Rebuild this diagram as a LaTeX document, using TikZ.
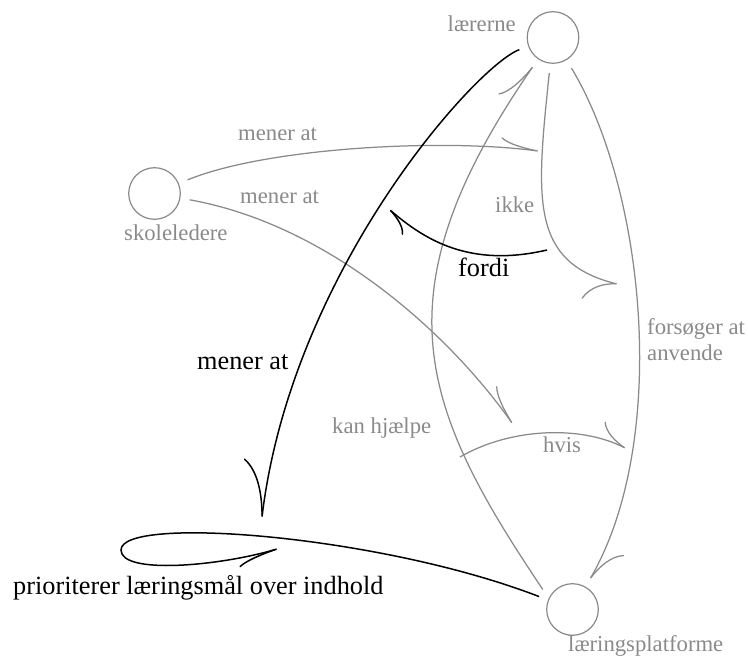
\documentclass[tikz,border=0pt]{standalone}
\usepackage{fontspec}
\setmainfont{Liberation Serif}
\usetikzlibrary{arrows.meta}
\definecolor{gr}{RGB}{138,138,138}
\newcommand\glabfont{\fontsize{22.7}{26.7}\selectfont}
\newcommand\blabfont{\fontsize{26.3}{30}\selectfont}
\tikzset{
  gline/.style={draw=gr, line width=1.25pt},
  bline/.style={draw=black, line width=1.5pt},
  glab/.style={text=gr, font=\glabfont, inner sep=0pt, anchor=base west},
  blab/.style={text=black, font=\blabfont, inner sep=0pt, anchor=base west},
  conc/.style={circle, draw=gr, line width=1.2pt, minimum size=51.6pt, inner sep=0pt, outer sep=10pt},
  hl/.style 2 args={-{Computer Modern Rightarrow[harpoon, length=#1, width=#2]}},
  hr/.style 2 args={-{Computer Modern Rightarrow[harpoon, swap, length=#1, width=#2]}},
}
\begin{document}
\begin{tikzpicture}[x=1pt,y=-1pt]
\useasboundingbox (0,0) rectangle (748,663);
% concepts
\node[conc] (Lr) at (553,37.5) {};
\node[conc] (Sk) at (154.5,193.5) {};
\node[conc] (Lp) at (572.5,609.5) {};
\node[glab, anchor=base east] (tLr) at (516,32) {lærerne};
\node[glab] (tSk) at (124,240.7) {skoleledere};
\node[glab] (tLp) at (568,651) {læringsplatforme};
% labels
\node[glab] (l1) at (238,141) {mener at};
\node[glab] (l2) at (240,204) {mener at};
\node[glab] (l3) at (495,213) {ikke};
\node[glab, anchor=north west, align=left] (l4) at (647,318) {forsøger at\\anvende};
\node[glab] (l5) at (543,453) {hvis};
\node[glab] (l6) at (332,434) {kan hjælpe};
\node[blab] (b1) at (197,370) {mener at};
\node[blab] (b2) at (458,277) {fordi};
\node[blab] (b3) at (13,594) {prioriterer læringsmål over indhold};
% free ends
\coordinate (e1e) at (538,151);
\coordinate (e2e) at (512,423);
\coordinate (e4e) at (617,284);
\coordinate (e6e) at (262,517);
\coordinate (e7s) at (547,250);
\coordinate (e7e) at (390,210);
\coordinate (e8s) at (460,457);
\coordinate (e8e) at (625,448);
\coordinate (lpl) at (121,550);
\coordinate (e9e) at (277,549);
% grey edges
\draw[gline, hl={38pt}{18pt}] (Sk) .. controls (265,148) and (440,138) .. (e1e);
\draw[gline, hl={39pt}{18pt}] (Sk) .. controls (330,225) and (450,335) .. (e2e);
\draw[gline, hl={37pt}{36pt}] (Lr) .. controls (645,190) and (670,440) .. (Lp);
\draw[gline, hr={31pt}{46pt}] (Lr) .. controls (536,200) and (530,262) .. (e4e);
\draw[gline, hl={42pt}{26pt}] (Lp.146.5) .. controls (420,407) and (376,294) .. (Lr);
\draw[gline, hl={30pt}{29pt}] (e8s) .. controls (510,428) and (580,425) .. (e8e);
% black edges
\draw[bline, hr={56pt}{50pt}] (Lr) .. controls (477,65) and (292,270) .. (e6e);
\draw[bline, hl={26pt}{22pt}] (e7s) .. controls (470,268) and (425,240) .. (e7e);
\draw[bline, hr={41pt}{14pt}] (Lp) .. controls (380,535) and (121,515) .. (lpl) .. controls (121,575) and (220,566) .. (e9e);
\end{tikzpicture}
\end{document}
